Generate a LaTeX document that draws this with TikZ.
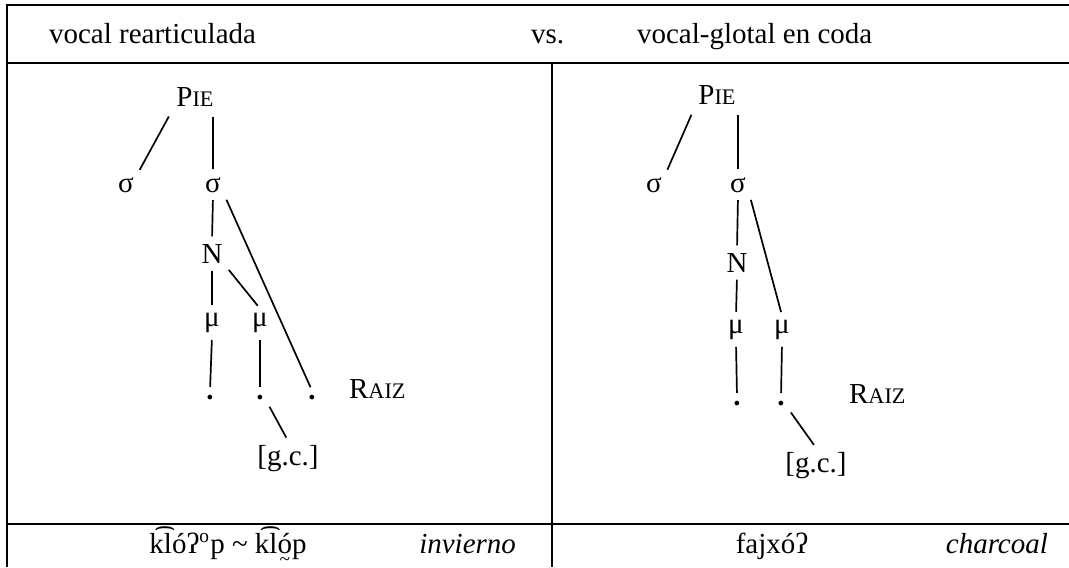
\documentclass[tikz,border=0pt]{standalone}
\usepackage{fontspec}
\setmainfont{Liberation Serif}
\usepackage{tikz}
\usetikzlibrary{positioning, calc}
\newcommand{\fakesc}[2]{#1{\fontsize{9.2}{10}\selectfont #2}}
\newcommand{\tildeunder}[1]{\leavevmode\setbox0=\hbox{#1}\rlap{\hbox to\wd0{\hss\raisebox{-0.42em}{\fontsize{8}{8}\selectfont\textasciitilde}\hss}}\box0}

\begin{document}
\begin{tikzpicture}[
  x=0.4138pt, y=-0.4138pt,
  font=\fontsize{12}{14}\selectfont,
  lbl/.style={anchor=base, inner sep=1.5pt},
  rule/.style={line width=1pt},
  link/.style={line width=0.7pt, shorten <=1.5pt, shorten >=1.5pt},
]
  \useasboundingbox (0,0) rectangle (1069,567);

  % table rules
  \draw[rule] (7,567) -- (7,5) -- (1069,5);
  \draw[rule] (7,63) -- (1069,63);
  \draw[rule] (7,524) -- (1069,524);
  \draw[rule] (552,63) -- (552,567);

  % header row
  \node[lbl, anchor=base west] (hdL) at (45,43) {vocal rearticulada};
  \node[lbl, anchor=base west] (vs) at (527,43) {vs.};
  \node[lbl, anchor=base west] (hdR) at (633,43) {vocal-glotal en coda};

  % left tree
  \node[lbl] (pieL) at (195,106) {\fakesc{P}{IE}};
  \node[lbl] (sgAL) at (126,192) {σ};
  \node[lbl] (sgBL) at (213,192) {σ};
  \node[lbl] (nucL) at (212,263) {N};
  \node[lbl] (muAL) at (212,326) {μ};
  \node[lbl] (muBL) at (260,326) {μ};
  \node[lbl] (dtAL) at (210,399) {\textbf{.}};
  \node[lbl] (dtBL) at (260,399) {\textbf{.}};
  \node[lbl] (dtCL) at (312,399) {\textbf{.}};
  \node[lbl, anchor=base west] (raizL) at (345,398) {\fakesc{R}{AIZ}};
  \node[lbl] (gcL) at (288,465) {[g.c.]};

  \draw[link, shorten <=3pt] (pieL.south west) -- (sgAL.north east);
  \draw[link, shorten >=3pt] (sgBL.north) -- (sgBL.north |- pieL.south);
  \draw[link] (sgBL.south) -- (nucL.north);
  \draw[link] (sgBL.south east) -- (dtCL.north);
  \draw[link] (nucL.south) -- (muAL.north);
  \draw[link] (nucL.south east) -- (muBL.north);
  \draw[link] (muAL.south) -- (dtAL.north);
  \draw[link] (muBL.south) -- (dtBL.north);
  \draw[link] (dtBL.south east) -- (gcL.north);

  % right tree
  \node[lbl] (pieR) at (717,104) {\fakesc{P}{IE}};
  \node[lbl] (sgAR) at (654,192) {σ};
  \node[lbl] (sgBR) at (738,192) {σ};
  \node[lbl] (nucR) at (737,272) {N};
  \node[lbl] (muAR) at (736,333) {μ};
  \node[lbl] (muBR) at (782,333) {μ};
  \node[lbl] (dtAR) at (737,405) {\textbf{.}};
  \node[lbl] (dtBR) at (781,405) {\textbf{.}};
  \node[lbl, anchor=base west] (raizR) at (845,403) {\fakesc{R}{AIZ}};
  \node[lbl] (gcR) at (816,472) {[g.c.]};

  \draw[link, shorten <=3pt] (pieR.south west) -- (sgAR.north east);
  \draw[link, shorten >=3pt] (sgBR.north) -- (sgBR.north |- pieR.south);
  \draw[link] (sgBR.south) -- (nucR.north);
  \draw[link] (sgBR.south east) -- (muBR.north);
  \draw[link] (nucR.south) -- (muAR.north);
  \draw[link] (muAR.south) -- (dtAR.north);
  \draw[link] (muBR.south) -- (dtBR.north);
  \draw[link] (dtBR.south east) -- (gcR.north);

  % bottom row
  \node[lbl] (wordL) at (228,553) {k͡lóʔ\textsuperscript{o}p \textasciitilde{} k͡l\tildeunder{ó}p};
  \node[lbl, anchor=base east] (glossL) at (520,553) {\itshape invierno};
  \node[lbl] (wordR) at (772,553) {fajxóʔ};
  \node[lbl, anchor=base east] (glossR) at (1052,553) {\itshape charcoal};
\end{tikzpicture}
\end{document}
